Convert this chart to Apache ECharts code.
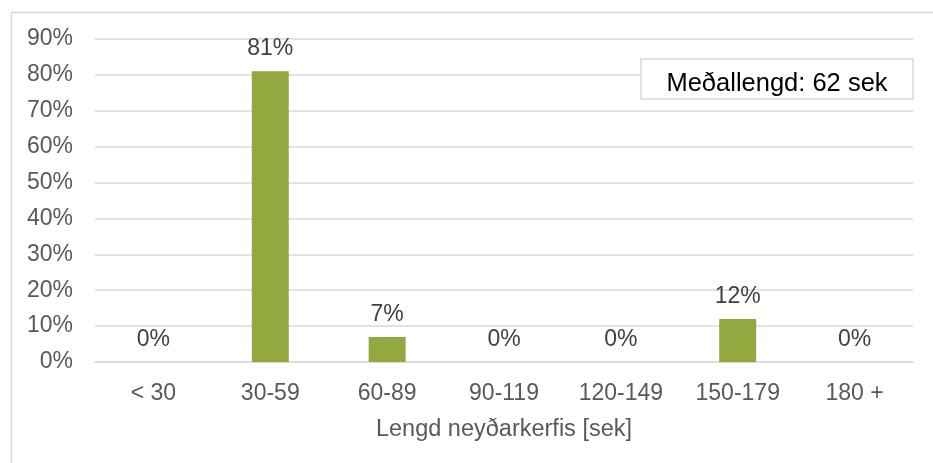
<!DOCTYPE html>
<html>
<head>
<meta charset="utf-8">
<script src="https://cdn.jsdelivr.net/npm/echarts@6/dist/echarts.min.js"></script>
<style>
  html, body { margin: 0; padding: 0; background: #ffffff; }
  #chart { width: 933px; height: 463px; }
</style>
</head>
<body>
<div id="chart"></div>
<script>
// Duration bins (seconds) and share of activations in each bin (%)
const categories = ['< 30', '30-59', '60-89', '90-119', '120-149', '150-179', '180 +'];
const shares = [0, 81, 7, 0, 0, 12, 0];
const xAxisTitle = 'Lengd neyðarkerfis [sek]';
const averageNote = 'Meðallengd: 62 sek';

const FONT = '"Liberation Sans", Arial, sans-serif';
const FS = 23;
const chart = echarts.init(document.getElementById('chart'), null, { renderer: 'canvas' });

chart.setOption({
  backgroundColor: '#ffffff',
  animation: false,
  grid: { left: 95, right: 20, top: 39, bottom: 101, containLabel: false },
  xAxis: {
    type: 'category',
    data: categories,
    axisLine: { show: true, lineStyle: { color: '#d9d9d9', width: 1.5 } },
    axisTick: { show: false },
    axisLabel: { color: '#595959', fontSize: FS, fontFamily: FONT, margin: 20 },
    name: xAxisTitle,
    nameLocation: 'middle',
    nameGap: 56,
    nameTextStyle: { color: '#595959', fontSize: 23.5, fontFamily: FONT }
  },
  yAxis: {
    type: 'value',
    min: 0,
    max: 90,
    interval: 10,
    axisLine: { show: false },
    axisTick: { show: false },
    splitLine: { lineStyle: { color: '#d9d9d9', width: 1.5 } },
    axisLabel: {
      color: '#595959', fontSize: FS, fontFamily: FONT, margin: 22,
      formatter: v => v + '%'
    }
  },
  series: [{
    type: 'bar',
    data: shares,
    barWidth: 37,
    itemStyle: { color: '#93a83f' },
    label: {
      show: true,
      position: 'top',
      distance: 11,
      color: '#404040',
      fontSize: FS,
      fontFamily: FONT,
      formatter: p => Math.round(p.value) + '%'
    }
  }],
  graphic: [
    {
      type: 'rect',
      left: 9, top: 10,
      z: 1,
      shape: { width: 940, height: 470 },
      style: { fill: 'none', stroke: '#d9d9d9', lineWidth: 1.5 },
      silent: true
    },
    {
      type: 'rect',
      z: 10,
      shape: { x: 641, y: 59, width: 272, height: 40 },
      style: { fill: '#ffffff', stroke: '#d9d9d9', lineWidth: 1.5 },
      silent: true
    },
    {
      type: 'text',
      z: 11,
      x: 777, y: 84,
      style: {
        text: averageNote,
        fill: '#000000',
        fontSize: 25.5,
        fontFamily: FONT,
        align: 'center',
        verticalAlign: 'middle'
      },
      silent: true
    }
  ]
});
</script>
</body>
</html>
